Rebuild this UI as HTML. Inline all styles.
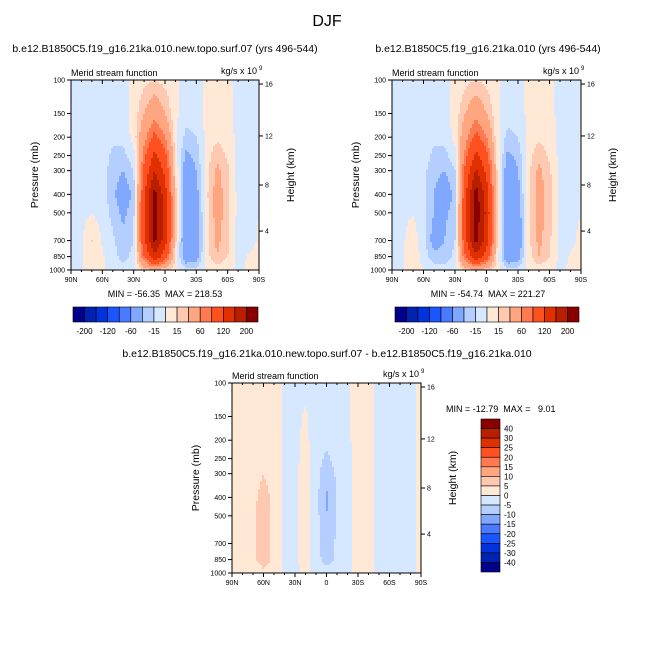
<!DOCTYPE html>
<html><head><meta charset="utf-8"><style>
body{margin:0;background:#fff;}
svg{display:block;font-family:"Liberation Sans",sans-serif;}
text{white-space:pre;}
</style></head><body>
<svg id="fig" width="654" height="655" xmlns="http://www.w3.org/2000/svg">
<rect width="654" height="655" fill="#fff"/>
<text x="327" y="26" font-size="16" text-anchor="middle">DJF</text>
</svg>
<script>
const lats=[90,80,70,60,50,40,30,20,10,0,-10,-20,-30,-40,-50,-60,-70,-80,-90];
const levs=[1000,850,700,500,400,300,250,200,150,100];
const pTicks=[100,150,200,250,300,400,500,700,850,1000];
const hTicks=[16,12,8,4];
const hTickP=[105,197,357,624];
const latTicks=[90,60,30,0,-30,-60,-90];
const latLabels=["90N","60N","30N","0","30S","60S","90S"];
const cmap=["#00008a","#0022b0","#0033dd","#1a55ff","#4a7aff","#80a8ff","#b4ceff","#d6e8ff","#ffe8d6","#ffc8b0","#ffa680","#ff7a50","#ff5020","#e03000","#b81e00","#8a0000"];
const levelsA=[-200,-160,-120,-80,-60,-30,-15,0,15,30,60,80,120,160,200];
const barLabelsA=["-200","-120","-60","-15","15","60","120","200"];
const levelsD=[-40,-30,-25,-20,-15,-10,-5,0,5,10,15,20,25,30,40];
const barLabelsD=["40","30","25","20","15","10","5","0","-5","-10","-15","-20","-25","-30","-40"];
const fieldA=[
[0,0,2,1,-5,-8,-5,20,30,20,5,-10,-10,3,5,2,-2,2,0],
[0,-2,10,2,-10,-20,-10,80,150,100,10,-50,-40,8,30,15,-5,1,2],
[0,-3,16,-2,-12,-25,-15,110,210,140,20,-60,-50,10,35,18,-5,-3,1],
[0,-3,-1,-5,-20,-35,-20,120,220,150,25,-60,-45,10,40,20,-5,-3,0],
[0,-3,-2,-8,-25,-45,-25,110,215,140,20,-55,-40,12,40,20,-5,-3,0],
[0,-3,-3,-8,-22,-30,-15,90,160,110,15,-45,-30,10,35,18,-5,-3,0],
[0,-3,-3,-8,-18,-20,-5,70,130,90,10,-35,-25,8,25,12,-5,-3,0],
[0,-3,-3,-8,-12,-10,5,50,90,60,5,-20,-15,5,12,8,-5,-3,0],
[0,-3,-3,-6,-8,-5,5,30,50,30,3,-8,-6,3,6,4,-4,-3,0],
[0,-2,-2,-3,-4,-3,3,10,15,10,2,-3,-3,2,3,2,-3,-2,0]];
const fieldB=[
[0,0,2,1,-5,-8,-5,20,30,20,5,-10,-10,3,5,2,-2,2,0],
[0,-2,8,-5,-25,-25,-10,80,150,100,10,-50,-40,8,30,15,-5,1,3],
[0,-3,10,-10,-40,-30,-15,110,215,140,20,-60,-50,10,35,18,-5,-3,3],
[0,-3,-1,-12,-30,-35,-20,120,225,150,25,-60,-45,10,40,20,-5,-3,0],
[0,-3,-2,-12,-30,-45,-25,110,220,140,20,-55,-40,12,40,20,-5,-3,0],
[0,-3,-3,-10,-25,-30,-15,90,165,110,15,-45,-30,10,35,18,-5,-3,0],
[0,-3,-3,-8,-18,-20,-5,70,130,90,10,-35,-25,8,25,12,-5,-3,0],
[0,-3,-3,-8,-12,-10,5,50,90,60,5,-20,-15,5,12,8,-5,-3,0],
[0,-3,-3,-6,-8,-5,5,30,50,30,3,-8,-6,3,6,4,-4,-3,0],
[0,-2,-2,-3,-4,-3,3,10,15,10,2,-3,-3,2,3,2,-3,-2,0]];
const fieldD=[
[1,1,2,4,3,-1,-1,1,-2,-3,-2,-1,1,1,-1,-1,-1,-1,1],
[1,2,4,7,4,-1,-1,2,-3,-7,-4,-2,2,2,-2,-2,-1,-1,1],
[1,2,4,7,4,-1,-1,2,-3,-8,-4,-2,2,2,-2,-2,-1,-1,1],
[1,2,4,7,4,-1,-1,2,-3,-10,-5,-2,2,2,-2,-2,-1,-1,1],
[1,2,4,6.5,4,-1,-1,2,-3,-11,-5,-2,2,2,-2,-2,-1,-1,1],
[1,2,3,5,3,-1,-1,2,-3,-8,-4,-2,2,2,-2,-2,-1,-1,1],
[1,2,3,4,3,-1,-1,1.5,-3,-6,-3,-2,2,2,-2,-2,-1,-1,1],
[1,2,3,4,2,-1,-1,1,-2,-4,-2,-1,2,2,-2,-2,-1,-1,1],
[1,2,3,3,2,-1,-1,0.5,-2,-3,-2,-1,2,2,-2,-2,-1,-1,1],
[1,2,2,2,2,-1,-1,-1,-2,-2,-2,-1,2,2,-2,-2,-1,-1,1]];

const NS="http://www.w3.org/2000/svg";
const svg=document.getElementById('fig');
function mk(tag,attrs,parent){const e=document.createElementNS(NS,tag);for(const k in attrs)e.setAttribute(k,attrs[k]);(parent||svg).appendChild(e);return e;}
function txt(x,y,s,size,anchor,parent){const t=mk('text',{x:x,y:y,'font-size':size,'text-anchor':anchor||'middle'},parent);t.textContent=s;return t;}
const L10=Math.log10;
function sample(field,lat,p){
  let fi=(90-lat)/10; fi=Math.max(0,Math.min(18,fi));
  const lp=L10(p); let fj=levs.length-1;
  if(lp>=3)fj=0;
  else for(let j=0;j<levs.length-1;j++){const a=L10(levs[j]),b=L10(levs[j+1]);if(lp<=a&&lp>=b){fj=j+(a-lp)/(a-b);break;}}
  const i0=Math.min(17,Math.floor(fi)),j0=Math.min(8,Math.floor(fj));const u=fi-i0,v=fj-j0;
  return field[j0][i0]*(1-u)*(1-v)+field[j0][i0+1]*u*(1-v)+field[j0+1][i0]*(1-u)*v+field[j0+1][i0+1]*u*v;
}
function colorOf(v,levels){let k=0;while(k<levels.length&&v>=levels[k])k++;return cmap[k];}

function panel(o){
  const g=mk('g',{});
  
  
  const X=lat=>o.x0+(90-lat)/180*(o.x1-o.x0);
  const Y=p=>o.y1-(3-L10(p))*(o.y1-o.y0);
  const fg=mk('g',{'shape-rendering':'crispEdges'},g);
  
  
  const st=2;
  for(let y=o.y0;y<o.y1;y+=st){
    const p=Math.pow(10,3-(o.y1-(y+st/2))/(o.y1-o.y0));
    let runStart=o.x0,runCol=null;
    for(let x=o.x0;x<=o.x1+st;x+=st){
      let col=null;
      if(x<o.x1){const lat=90-(x+st/2-o.x0)/(o.x1-o.x0)*180;col=colorOf(sample(o.field,lat,p),o.levels);}
      if(col!==runCol){
        if(runCol){const r=mk('rect',{x:runStart,y:y,width:Math.min(x,o.x1)-runStart,height:Math.min(st,o.y1-y)+0.5,fill:runCol},fg);
          
          }
        runStart=x;runCol=col;
      }
    }
  }
  const fr=mk('rect',{x:o.x0,y:o.y0,width:o.x1-o.x0,height:o.y1-o.y0,fill:'none',stroke:'#000','stroke-width':1},g);
  
  
  pTicks.forEach(p=>{const y=Y(p);mk('line',{x1:o.x0-4,x2:o.x0,y1:y,y2:y,stroke:'#000'},g);
    const t=txt(o.x0-6,y+2.5,String(p),7,'end',g);
    
    });
  hTicks.forEach((h,i)=>{const y=Y(hTickP[i]);mk('line',{x1:o.x1,x2:o.x1+4,y1:y,y2:y,stroke:'#000'},g);
    const t=txt(o.x1+6,y+2.5,String(h),7,'start',g);
    
    });
  latTicks.forEach((la,i)=>{const x=X(la);mk('line',{x1:x,x2:x,y1:o.y1,y2:o.y1+4,stroke:'#000'},g);mk('line',{x1:x,x2:x,y1:o.y0,y2:o.y0+4,stroke:'#000'},g);
    const t=txt(x,o.y1+12,latLabels[i],7,'middle',g);
    
    });
  for(let la=80;la>=-80;la-=10){if(la%30){const x=X(la);mk('line',{x1:x,x2:x,y1:o.y1,y2:o.y1+2,stroke:'#000'},g);mk('line',{x1:x,x2:x,y1:o.y0,y2:o.y0+2,stroke:'#000'},g);}}
  const yl=txt(0,0,'Pressure (mb)',10.5,'middle',g);
  yl.setAttribute('transform',`translate(${o.x0-33},${(o.y0+o.y1)/2}) rotate(-90)`);
  
  
  const hl=txt(0,0,'Height (km)',10.5,'middle',g);
  hl.setAttribute('transform',`translate(${o.x1+35},${(o.y0+o.y1)/2}) rotate(-90)`);
  
  
  const ms=txt(o.x0,o.y0-4,'Merid stream function',9,'start',g);
  
  
  const un=txt(o.x1-2,o.y0-6,'kg/s x 10',9,'end',g);
  
  
  txt(o.x1,o.y0-10,'9',6,'start',g);
  const tt=txt(o.tx,o.ty,o.title,10.5,'middle',g);
  
  
  const mm=txt(o.mx,o.my,o.minmax,9,o.manchor,g);
  
  
}
function hbar(x0,x1,y0,y1,name){
  const g=mk('g',{});
  
  
  const w=(x1-x0)/16;
  cmap.forEach((c,i)=>{const r=mk('rect',{x:x0+i*w,y:y0,width:w,height:y1-y0,fill:c,stroke:'#000','stroke-width':0.6},g);
    
    });
  barLabelsA.forEach((s,i)=>{const t=txt(x0+(1+2*i)*w,y1+12,s,8,'middle',g);
    
    });
}
panel({name:'panel-test',field:fieldA,levels:levelsA,x0:71,x1:259,y0:80,y1:270,title:'b.e12.B1850C5.f19_g16.21ka.010.new.topo.surf.07 (yrs 496-544)',tx:165,ty:52,minmax:'MIN = -56.35  MAX = 218.53',mx:165,my:297,manchor:'middle'});
panel({name:'panel-control',field:fieldB,levels:levelsA,x0:392,x1:581,y0:80,y1:270,title:'b.e12.B1850C5.f19_g16.21ka.010 (yrs 496-544)',tx:488,ty:52,minmax:'MIN = -54.74  MAX = 221.27',mx:488,my:297,manchor:'middle'});
panel({name:'panel-difference',field:fieldD,levels:levelsD,x0:232,x1:421,y0:383,y1:573,title:'b.e12.B1850C5.f19_g16.21ka.010.new.topo.surf.07 - b.e12.B1850C5.f19_g16.21ka.010',tx:327,ty:357,minmax:'MIN = -12.79  MAX =   9.01',mx:446,my:412,manchor:'start'});
hbar(73,258,307,322,'colorbar-test');
hbar(395,579,307,322,'colorbar-control');
(function(){
  const g=mk('g',{});
  
  
  const x0=481,x1=500,y0=419,y1=572,h=(y1-y0)/16;
  cmap.slice().reverse().forEach((c,i)=>{const r=mk('rect',{x:x0,y:y0+i*h,width:x1-x0,height:h,fill:c,stroke:'#000','stroke-width':0.6},g);
    
    });
  barLabelsD.forEach((s,i)=>{const t=txt(x1+4,y0+(i+1)*h+3,s,8,'start',g);
    
    });
})();
</script>
</body></html>
